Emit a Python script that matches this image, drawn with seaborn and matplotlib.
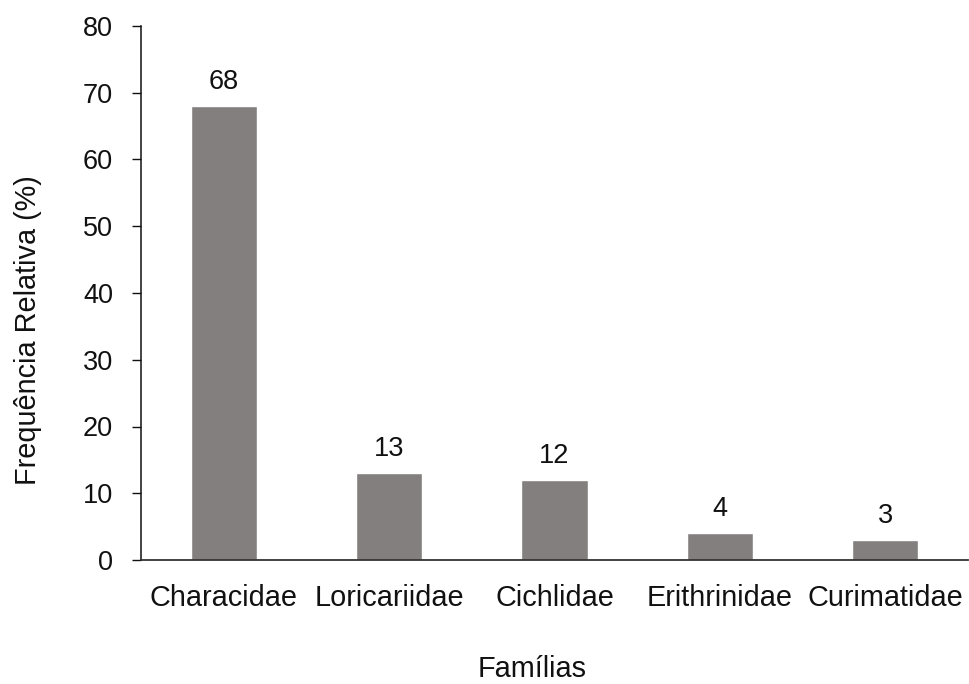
import matplotlib
matplotlib.use("Agg")
import matplotlib.pyplot as plt
import seaborn as sns
import pandas as pd

# Relative frequency of fish families
familias = ["Characidae", "Loricariidae", "Cichlidae", "Erithrinidae", "Curimatidae"]
frequencia = [68, 13, 12, 4, 3]
y_ticks = [0, 10, 20, 30, 40, 50, 60, 70, 80]

sns.set_theme(style="white")
plt.rcParams["font.family"] = ["Liberation Sans", "DejaVu Sans"]

df = pd.DataFrame({"Famílias": familias, "Frequência": frequencia})

fig = plt.figure(figsize=(9.7, 6.84), dpi=100)
ax = fig.add_axes([141 / 970, 1 - 560 / 684, 827 / 970, 534 / 684])

bar_color = "#837f7e"
sns.barplot(data=df, x="Famílias", y="Frequência", color=bar_color,
            saturation=1, width=0.4, ax=ax)

ax.set_xlim(-0.5, len(familias) - 0.5)
ax.set_ylim(0, 80)
ax.set_yticks(y_ticks)
ax.set_yticklabels([str(t) for t in y_ticks])

num_size = 19.5
word_size = 20.8

# Value labels above the bars
for i, v in enumerate(frequencia):
    ax.annotate(str(v), xy=(i, v), xytext=(0, 12.3), textcoords="offset points",
                ha="center", va="baseline", fontsize=num_size, color="#111111")

# Spines: only left and bottom
for side in ("top", "right"):
    ax.spines[side].set_visible(False)
ax.spines["left"].set_color("#111111")
ax.spines["left"].set_linewidth(1.1)
ax.spines["bottom"].set_color("#333333")
ax.spines["bottom"].set_linewidth(1.3)

ax.tick_params(axis="y", direction="out", length=6.5, width=1.0, color="#111111",
               pad=13.5, labelsize=num_size, labelcolor="#111111", left=True)
ax.tick_params(axis="x", length=0, pad=17, labelsize=word_size, labelcolor="#111111")

ax.set_xlabel("Famílias", fontsize=word_size, color="#111111")
ax.xaxis.label.set_va("baseline")
ax.xaxis.set_label_coords((532 - 141) / 827, -(677 - 560) / 534)

ax.set_ylabel("Frequência Relativa (%)", fontsize=word_size, color="#111111")
ax.yaxis.label.set_va("baseline")
ax.yaxis.set_label_coords((36.5 - 141) / 827, (560 - 330) / 534)

ax.grid(False)
fig.savefig("out.png", dpi=100, facecolor="white")
